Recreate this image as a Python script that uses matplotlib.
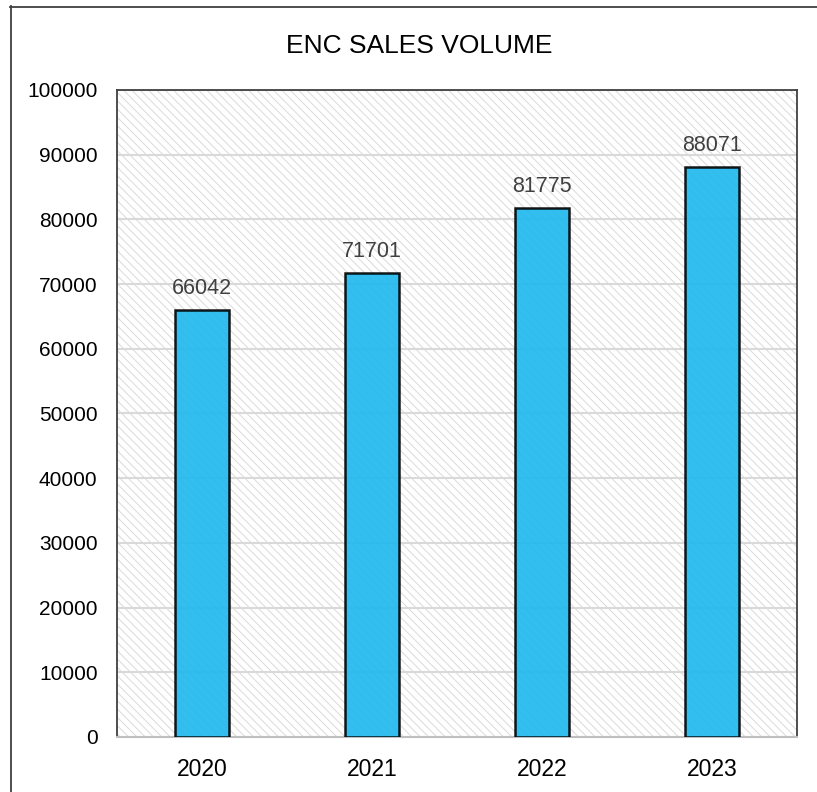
import matplotlib.pyplot as plt
from matplotlib.patches import Rectangle
from matplotlib.lines import Line2D

plt.rcParams['font.family'] = ['Liberation Sans', 'DejaVu Sans']
plt.rcParams['hatch.linewidth'] = 0.7

years = ["2020", "2021", "2022", "2023"]
sales = [66042, 71701, 81775, 88071]

W, H = 817, 792
fig = plt.figure(figsize=(W / 100, H / 100), dpi=100)
ax = fig.add_axes([117 / W, 1 - 737 / H, 680 / W, 647 / H])

# hatched plot background
ax.set_facecolor("white")
ax.add_patch(Rectangle((0, 0), 1, 1, transform=ax.transAxes, facecolor="white",
                       edgecolor="#dadada", hatch="\\\\\\\\", linewidth=0, zorder=0))

x = range(len(years))
bars = ax.bar(x, sales, width=0.32, color="#1cb8ee", alpha=0.9,
              edgecolor="black", linewidth=1.8, zorder=3)
for b in bars:
    b.set_edgecolor("black")

for xi, v in zip(x, sales):
    ax.annotate(str(v), (xi, v), xytext=(0, 8), textcoords="offset points",
                ha="center", va="bottom", fontsize=15.5, color="#404040")

ax.set_xlim(-0.5, 3.5)
ax.set_ylim(0, 100000)
ax.set_yticks(range(0, 100001, 10000))
ax.set_xticks(list(x))
ax.set_xticklabels(years)
ax.yaxis.grid(True, color="#d9d9d9", linewidth=1.5, zorder=1)
ax.set_axisbelow(True)
ax.tick_params(axis="both", length=0)
ax.tick_params(axis="y", pad=14, labelsize=15)
ax.tick_params(axis="x", pad=15, labelsize=16.5)

for side in ["left", "top", "right"]:
    ax.spines[side].set_color("#404040")
    ax.spines[side].set_linewidth(1.3)
ax.spines["bottom"].set_color("#bfbfbf")
ax.spines["bottom"].set_linewidth(1.5)

fig.text(419 / W, 1 - 46 / H, "ENC SALES VOLUME", ha="center", va="center", fontsize=19)

# outer chart border (cut off at right and bottom)
fig.add_artist(Line2D([10.5 / W, 10.5 / W], [1 - 6 / H, 0], transform=fig.transFigure,
                      color="#404040", linewidth=1.3))
fig.add_artist(Line2D([10 / W, 1], [1 - 6.5 / H, 1 - 6.5 / H], transform=fig.transFigure,
                      color="#404040", linewidth=1.3))

fig.savefig("out.png", dpi=100)
